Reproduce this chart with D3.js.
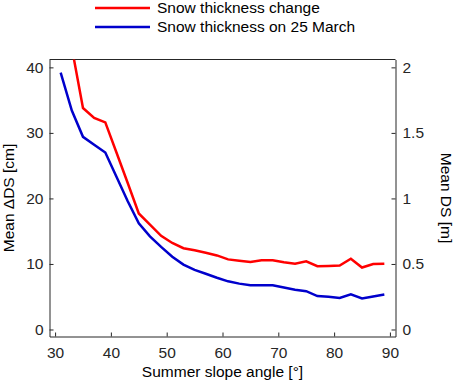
<!DOCTYPE html>
<html lang="en">
<head>
    <meta charset="UTF-8">
    <title>Snow thickness vs slope</title>
    <script src="https://d3js.org/d3.v7.min.js"></script>
    <style>
        body { margin: 0; background: #fff; }
        svg { font-family: "Liberation Sans", Arial, sans-serif; }
        .axis text { font-size: 15.5px; fill: #262626; }
        .axis path, .axis line { stroke: #262626; }
        .label { font-size: 15.5px; fill: #000; }
    </style>
</head>
<body>
<div id="chart"></div>
<script>
    // slope angle classes (deg)
    const angles = [31, 33, 35, 37, 39, 41, 43, 45, 47, 49, 51, 53, 55, 57, 59,
                    61, 63, 65, 67, 69, 71, 73, 75, 77, 79, 81, 83, 85, 87, 89];
    // mean snow thickness change (cm), left axis
    const dsChange = [49, 43.0, 33.8, 32.3, 31.6, 27.0, 22.4, 17.7, 16.0, 14.3, 13.2, 12.4, 12.1, 11.7, 11.3,
                      10.7, 10.5, 10.3, 10.55, 10.55, 10.25, 10.05, 10.4, 9.65, 9.7, 9.75, 10.8, 9.45, 10.0, 10.05];
    // mean snow thickness on 25 March (m), right axis
    const dsMarch = [1.96, 1.67, 1.47, 1.41, 1.35, 1.165, 0.98, 0.81, 0.71, 0.63, 0.555, 0.495, 0.455, 0.425, 0.395,
                     0.3675, 0.35, 0.3375, 0.3375, 0.3375, 0.32, 0.3025, 0.2925, 0.255, 0.25, 0.24, 0.2675, 0.2375, 0.2525, 0.2675];

    const xTicks = [30, 40, 50, 60, 70, 80, 90];
    const leftTicks = [0, 10, 20, 30, 40];
    const rightTicks = [0, 0.5, 1, 1.5, 2];

    const width = 454, height = 382;
    const plot = {left: 49.5, right: 395.5, top: 59.5, bottom: 336.5};

    const svg = d3.select("#chart").append("svg")
        .attr("width", width)
        .attr("height", height);

    const x = d3.scaleLinear().domain([29, 91]).range([plot.left, plot.right]);
    const yL = d3.scaleLinear().domain([-1.07, 41.2]).range([plot.bottom, plot.top]);
    const yR = d3.scaleLinear().domain([-1.07 / 20, 41.2 / 20]).range([plot.bottom, plot.top]);

    svg.append("clipPath").attr("id", "clip")
        .append("rect")
        .attr("x", plot.left).attr("y", plot.top)
        .attr("width", plot.right - plot.left)
        .attr("height", plot.bottom - plot.top);

    // top box line
    svg.append("line")
        .attr("x1", plot.left).attr("x2", plot.right)
        .attr("y1", plot.top).attr("y2", plot.top)
        .attr("stroke", "#262626");

    svg.append("g").attr("class", "axis")
        .attr("transform", "translate(0," + plot.bottom + ")")
        .call(d3.axisBottom(x).tickValues(xTicks).tickSizeInner(-4).tickSizeOuter(0).tickPadding(10));

    svg.append("g").attr("class", "axis")
        .attr("transform", "translate(" + plot.left + ",0)")
        .call(d3.axisLeft(yL).tickValues(leftTicks).tickSizeInner(-4).tickSizeOuter(0).tickPadding(6));

    svg.append("g").attr("class", "axis")
        .attr("transform", "translate(" + plot.right + ",0)")
        .call(d3.axisRight(yR).tickValues(rightTicks).tickSizeInner(-4).tickSizeOuter(0).tickPadding(7)
            .tickFormat(d3.format("")));

    svg.selectAll(".axis .domain").attr("stroke", "#262626");

    const lineL = d3.line().x((d, i) => x(angles[i])).y(d => yL(d));
    const lineR = d3.line().x((d, i) => x(angles[i])).y(d => yR(d));

    svg.append("path").datum(dsChange)
        .attr("clip-path", "url(#clip)")
        .attr("fill", "none").attr("stroke", "#ff0000").attr("stroke-width", 2.5)
        .attr("d", lineL);

    svg.append("path").datum(dsMarch)
        .attr("clip-path", "url(#clip)")
        .attr("fill", "none").attr("stroke", "#0000cc").attr("stroke-width", 2.5)
        .attr("d", lineR);

    // axis titles
    svg.append("text").attr("class", "label")
        .attr("x", (plot.left + plot.right) / 2).attr("y", 377)
        .attr("text-anchor", "middle")
        .text("Summer slope angle [°]");

    svg.append("text").attr("class", "label")
        .attr("transform", "translate(14," + (plot.top + plot.bottom) / 2 + ") rotate(-90)")
        .attr("text-anchor", "middle")
        .text("Mean ΔDS [cm]");

    svg.append("text").attr("class", "label")
        .attr("transform", "translate(441," + (plot.top + plot.bottom) / 2 + ") rotate(90)")
        .attr("text-anchor", "middle")
        .text("Mean DS [m]");

    // legend
    const legend = [
        {name: "Snow thickness change", color: "#ff0000"},
        {name: "Snow thickness on 25 March", color: "#0000cc"}
    ];
    const lg = svg.append("g").selectAll("g").data(legend).enter().append("g")
        .attr("transform", (d, i) => "translate(0," + (8 + i * 19) + ")");
    lg.append("line")
        .attr("x1", 95).attr("x2", 150)
        .attr("stroke", d => d.color).attr("stroke-width", 2.5);
    lg.append("text").attr("class", "label")
        .attr("x", 157).attr("dy", "0.35em")
        .text(d => d.name);
</script>
</body>
</html>
